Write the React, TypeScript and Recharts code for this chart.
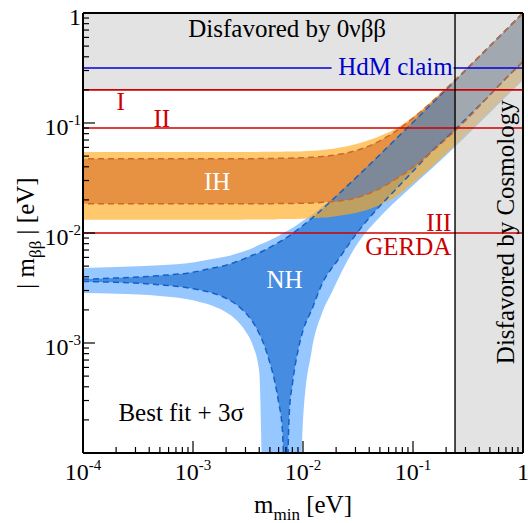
import type { ReactElement } from 'react'
import { ComposedChart, Area, Line, XAxis, YAxis, ReferenceLine, ReferenceArea, ReferenceDot } from 'recharts'

const FONT = '"Liberation Serif", "Times New Roman", Times, serif'
const RED = '#cc0000'

// lightest neutrino mass m_min [eV]
const mMin = [1e-4, 2e-4, 5e-4, 1e-3, 1.5e-3, 2e-3, 2.5e-3, 3e-3, 3.5e-3, 4e-3, 4.5e-3, 5e-3, 5.5e-3, 6e-3, 6.5e-3, 7e-3, 7.5e-3, 8e-3, 9e-3, 1e-2, 1.2e-2, 1.5e-2, 1.8e-2, 2e-2, 3e-2, 5e-2, 7e-2, 0.1, 0.15, 0.2, 0.3, 0.5, 0.7, 1]

// normal hierarchy, 3 sigma band
const nhLo3 = [0.00285, 0.0028, 0.00268, 0.00245, 0.00218, 0.0019, 0.0016, 0.00128, 0.00095, 0.00055, 0.00001, 0.00001, 0.00001, 0.00001, 0.00001, 0.00001, 0.00001, 0.00001, 0.00001, 0.0002, 0.00085, 0.0019, 0.0028, 0.0035, 0.0075, 0.014, 0.0195, 0.027, 0.039, 0.051, 0.075, 0.124, 0.173, 0.243]
const nhUp3 = [0.0048, 0.0049, 0.0051, 0.0054, 0.0058, 0.0061, 0.0065, 0.0069, 0.0073, 0.0078, 0.0082, 0.0086, 0.009, 0.0094, 0.0099, 0.0103, 0.0107, 0.0111, 0.012, 0.0129, 0.0146, 0.0174, 0.0203, 0.0224, 0.0325, 0.0525, 0.0725, 0.1025, 0.153, 0.204, 0.305, 0.507, 0.708, 1.0]
// normal hierarchy, best fit
const nhLo = [0.00363, 0.00356, 0.00338, 0.00312, 0.00285, 0.00255, 0.00222, 0.00188, 0.00155, 0.00122, 0.00092, 0.00066, 0.00046, 0.00029, 0.00016, 0.00003, 0.00023, 0.00042, 0.00085, 0.0013, 0.002, 0.0035, 0.0047, 0.0054, 0.0096, 0.0176, 0.025, 0.0365, 0.056, 0.073, 0.108, 0.18, 0.255, 0.36]
const nhUp = [0.0038, 0.0039, 0.0041, 0.0044, 0.0048, 0.0051, 0.0055, 0.0059, 0.0063, 0.0066, 0.007, 0.0074, 0.0078, 0.0082, 0.0086, 0.009, 0.0094, 0.0099, 0.0108, 0.0117, 0.0136, 0.0165, 0.0195, 0.0215, 0.0315, 0.0515, 0.0715, 0.1015, 0.151, 0.201, 0.301, 0.501, 0.7, 1.0]

// inverted hierarchy, 3 sigma band
const ihLo3 = [0.0132, 0.0132, 0.0132, 0.0132, 0.0132, 0.0132, 0.0132, 0.0133, 0.0133, 0.0133, 0.0133, 0.0133, 0.0133, 0.0134, 0.0134, 0.0134, 0.0134, 0.0134, 0.0135, 0.0135, 0.0136, 0.0138, 0.014, 0.0142, 0.0152, 0.018, 0.0215, 0.0285, 0.0405, 0.053, 0.077, 0.127, 0.177, 0.25]
const ihUp3 = [0.0545, 0.0545, 0.0545, 0.0545, 0.0545, 0.0545, 0.0546, 0.0546, 0.0546, 0.0546, 0.0547, 0.0547, 0.0548, 0.0548, 0.0549, 0.055, 0.055, 0.0551, 0.0552, 0.0555, 0.056, 0.0568, 0.058, 0.059, 0.064, 0.076, 0.089, 0.114, 0.16, 0.208, 0.305, 0.503, 0.702, 1.0]
// inverted hierarchy, best fit
const ihLo = [0.0184, 0.0184, 0.0184, 0.0184, 0.0184, 0.0184, 0.0184, 0.0184, 0.0184, 0.0184, 0.0184, 0.0184, 0.0185, 0.0185, 0.0185, 0.0185, 0.0185, 0.0185, 0.0186, 0.0186, 0.0187, 0.019, 0.0192, 0.0194, 0.0208, 0.0254, 0.031, 0.0395, 0.0555, 0.0715, 0.105, 0.18, 0.255, 0.362]
const ihUp = [0.0473, 0.0473, 0.0473, 0.0473, 0.0473, 0.0474, 0.0474, 0.0474, 0.0474, 0.0475, 0.0475, 0.0476, 0.0476, 0.0477, 0.0477, 0.0478, 0.0479, 0.048, 0.0482, 0.0484, 0.0488, 0.0496, 0.0506, 0.0514, 0.056, 0.0688, 0.0845, 0.1106, 0.1573, 0.2055, 0.3037, 0.5022, 0.7016, 1.0]

// limits
const limitI = 0.2
const limitII = 0.09
const limitIII = 0.01
const hdmClaim = 0.316
const cosmoLimit = 0.241

// axis ticks
const majorTicks = [1e-4, 1e-3, 1e-2, 1e-1, 1]
const tickExps = ['-4', '-3', '-2', '-1', '']
const minorSteps = [2, 3, 4, 5, 6, 7, 8, 9]
const allTicks = [...majorTicks, ...majorTicks.slice(0, 4).flatMap((d) => minorSteps.map((k) => d * k))].sort((a, b) => a - b)

const rows = mMin.map((m, i) => {
  const lo = Math.max(nhLo[i], ihLo[i])
  const hi = Math.min(nhUp[i], ihUp[i])
  return {
    m,
    nh3: [nhLo3[i], nhUp3[i]],
    nh: [nhLo[i], nhUp[i]],
    ih3: [ihLo3[i], ihUp3[i]],
    ih: [ihLo[i], ihUp[i]],
    both: lo < hi ? [lo, hi] : null,
    nhLo: nhLo[i],
    nhUp: nhUp[i],
    ihLo: ihLo[i],
    ihUp: ihUp[i],
  }
})

function TickLabel({ x, y, exp, anchor }: { x: number; y: number; exp: string; anchor: 'middle' | 'end' }) {
  return (
    <text x={x} y={y} textAnchor={anchor} fontFamily={FONT} fontSize={24} fill="#000">
      {exp ? (
        <>
          10
          <tspan dy={-10} fontSize={15}>
            {exp}
          </tspan>
        </>
      ) : (
        '1'
      )}
    </text>
  )
}

function XTick(props: any) {
  const { x, y, payload } = props
  const i = majorTicks.indexOf(payload.value)
  return (
    <g>
      <line x1={x} x2={x} y1={y} y2={y - (i >= 0 ? 12 : 6)} stroke="#000" strokeWidth={1.2} />
      {i >= 0 && <TickLabel x={x} y={y + 27} exp={tickExps[i]} anchor="middle" />}
    </g>
  )
}

function YTick(props: any) {
  const { x, y, payload } = props
  const i = majorTicks.indexOf(payload.value)
  return (
    <g>
      <line x1={x} x2={x + (i >= 0 ? 12 : 6)} y1={y} y2={y} stroke="#000" strokeWidth={1.2} />
      {i > 0 && <TickLabel x={x - 2} y={y + 12} exp={tickExps[i]} anchor="end" />}
    </g>
  )
}

function XTitle(props: any) {
  const vb = props.viewBox ?? { x: 83, y: 453, width: 440, height: 70 }
  return (
    <text x={vb.x + vb.width / 2} y={vb.y + 60} textAnchor="middle" fontFamily={FONT} fontSize={25} fill="#000">
      m
      <tspan dy={7} fontSize={17}>
        min
      </tspan>
      <tspan dy={-7}> [eV]</tspan>
    </text>
  )
}

function YTitle(props: any) {
  const vb = props.viewBox ?? { x: 0, y: 13, width: 83, height: 440 }
  const cx = 34
  const cy = vb.y + vb.height / 2
  return (
    <text x={cx} y={cy} transform={`rotate(-90 ${cx} ${cy})`} textAnchor="middle" fontFamily={FONT} fontSize={25} fill="#000">
      | m
      <tspan dy={7} fontSize={17}>
        ββ
      </tspan>
      <tspan dy={-7}> | [eV]</tspan>
    </text>
  )
}

function Note(props: any) {
  const { viewBox, txt, col = '#000', anchor = 'middle', vertical = false } = props
  if (!viewBox) return null
  const { x, y } = viewBox
  return (
    <text
      x={x}
      y={y}
      textAnchor={anchor}
      fill={col}
      fontFamily={FONT}
      fontSize={25}
      transform={vertical ? `rotate(-90 ${x} ${y})` : undefined}
    >
      {txt}
    </text>
  )
}

const notes = [
  { m: 0.00718, v: 0.609, txt: 'Disfavored by 0νββ', col: '#000', anchor: 'middle' },
  { m: 0.23, v: 0.272, txt: 'HdM claim', col: '#0000cc', anchor: 'end' },
  { m: 2.2e-4, v: 0.13, txt: 'I', col: RED, anchor: 'middle' },
  { m: 5.2e-4, v: 0.0912, txt: 'II', col: RED, anchor: 'middle' },
  { m: 0.223, v: 0.01035, txt: 'III', col: RED, anchor: 'end' },
  { m: 0.223, v: 0.00635, txt: 'GERDA', col: RED, anchor: 'end' },
  { m: 1.66e-3, v: 0.0248, txt: 'IH', col: '#fff', anchor: 'middle' },
  { m: 6.8e-3, v: 0.00318, txt: 'NH', col: '#fff', anchor: 'middle' },
  { m: 7.8e-4, v: 1.94e-4, txt: 'Best fit + 3σ', col: '#000', anchor: 'middle' },
]

export default function App(): ReactElement {
  return (
    <div style={{ position: 'absolute', left: 0, top: 0, width: 528, height: 523, background: '#fff' }}>
      <ComposedChart width={528} height={523} data={rows} margin={{ top: 13, right: 5, bottom: 0, left: 0 }}>
        <XAxis
          dataKey="m"
          type="number"
          scale="log"
          domain={[1e-4, 1]}
          allowDataOverflow
          ticks={allTicks}
          interval={0}
          tick={<XTick />}
          tickLine={false}
          tickSize={0}
          tickMargin={0}
          height={70}
          axisLine={{ stroke: '#000', strokeWidth: 2 }}
          label={{ content: <XTitle /> }}
        />
        <YAxis
          type="number"
          scale="log"
          domain={[1e-4, 1]}
          allowDataOverflow
          ticks={allTicks}
          interval={0}
          tick={<YTick />}
          tickLine={false}
          tickSize={0}
          tickMargin={0}
          width={83}
          axisLine={{ stroke: '#000', strokeWidth: 2 }}
          label={{ content: <YTitle /> }}
        />

        <Area dataKey="nh3" type="monotone" stroke="none" fill="#96c8ff" fillOpacity={1} isAnimationActive={false} />
        <Area dataKey="nh" type="monotone" stroke="none" fill="#468ce1" fillOpacity={1} isAnimationActive={false} />
        <Area dataKey="ih3" type="monotone" stroke="none" fill="#ffaa1e" fillOpacity={0.65} isAnimationActive={false} />
        <Area dataKey="ih" type="monotone" stroke="none" fill="#d76e28" fillOpacity={0.6} isAnimationActive={false} />
        <Area dataKey="both" type="monotone" stroke="none" fill="#7d8898" fillOpacity={1} isAnimationActive={false} />

        <ReferenceArea x1={1e-4} x2={cosmoLimit} y1={limitI} y2={1} fill="#c8c8c8" fillOpacity={0.5} stroke="none" />
        <ReferenceArea x1={cosmoLimit} x2={1} y1={1e-4} y2={1} fill="#c8c8c8" fillOpacity={0.5} stroke="none" />

        <Line dataKey="nhUp" type="monotone" stroke="#1560c8" strokeWidth={1.5} strokeDasharray="6 4" dot={false} activeDot={false} isAnimationActive={false} />
        <Line dataKey="nhLo" type="monotone" stroke="#1560c8" strokeWidth={1.5} strokeDasharray="6 4" dot={false} activeDot={false} isAnimationActive={false} />
        <Line dataKey="ihUp" type="monotone" stroke="#c8692d" strokeWidth={1.5} strokeDasharray="6 4" strokeDashoffset={5} dot={false} activeDot={false} isAnimationActive={false} />
        <Line dataKey="ihLo" type="monotone" stroke="#c8692d" strokeWidth={1.5} strokeDasharray="6 4" strokeDashoffset={5} dot={false} activeDot={false} isAnimationActive={false} />

        <ReferenceLine y={limitI} stroke={RED} strokeWidth={1.6} />
        <ReferenceLine y={limitII} stroke={RED} strokeWidth={1.6} />
        <ReferenceLine y={limitIII} stroke={RED} strokeWidth={1.6} />
        <ReferenceLine segment={[{ x: 1e-4, y: hdmClaim }, { x: 0.0182, y: hdmClaim }]} stroke="#0000dd" strokeWidth={1.6} />
        <ReferenceLine segment={[{ x: 0.234, y: hdmClaim }, { x: 1, y: hdmClaim }]} stroke="#0000dd" strokeWidth={1.6} />
        <ReferenceLine x={cosmoLimit} stroke="#000" strokeWidth={1.4} />
        <ReferenceLine x={1} stroke="#000" strokeWidth={2} />
        <ReferenceLine y={1} stroke="#000" strokeWidth={2} />

        {notes.map((n) => (
          <ReferenceDot
            key={n.txt}
            x={n.m}
            y={n.v}
            r={0}
            fill="none"
            stroke="none"
            label={{ content: <Note txt={n.txt} col={n.col} anchor={n.anchor} /> }}
          />
        ))}
        <ReferenceDot
          x={0.823}
          y={0.01017}
          r={0}
          fill="none"
          stroke="none"
          label={{ content: <Note txt="Disfavored by Cosmology" vertical /> }}
        />
      </ComposedChart>
    </div>
  )
}
